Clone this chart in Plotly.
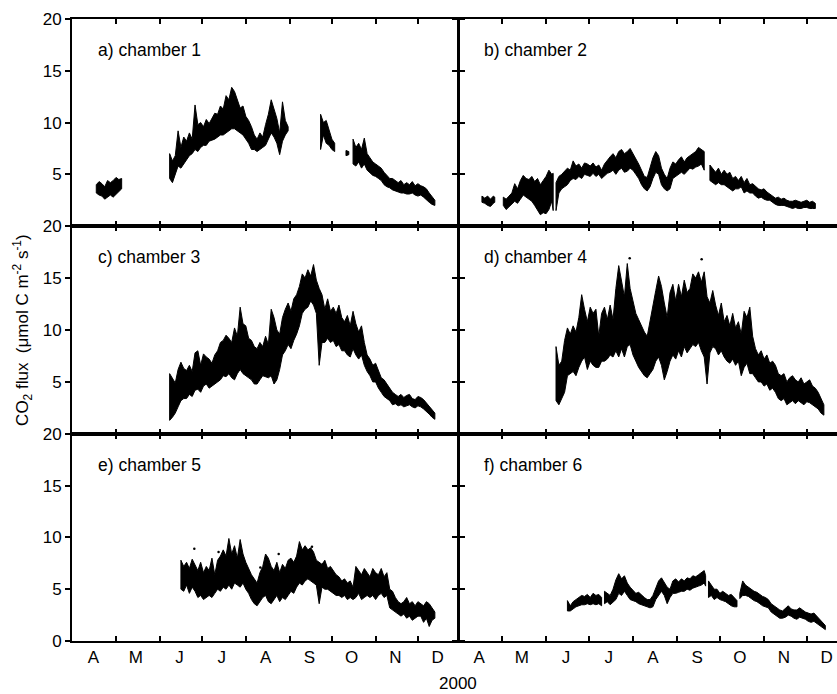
import plotly.graph_objects as go

# ---------------- data (day of year 2000, flux umol C m-2 s-1) ----------------
# None marks a gap in the record. Each entry: day, upper envelope, lower envelope.
a_day = [108,110,112,114,116,118,120,122,124,126,None,
         160,162,164,166,168,170,172,174,176,178,180,182,184,186,188,190,192,194,196,198,
         200,202,204,206,208,210,212,214,216,218,220,222,224,226,228,230,232,234,236,238,240,242,244,None,
         267,269,271,273,275,277,None,285,287,None,
         290,292,294,296,298,300,302,304,306,308,310,312,314,316,318,320,322,324,326,328,
         330,332,334,336,338,340,342,344,346,348]
a_hi = [4.0,4.3,4.1,3.8,4.4,4.2,4.4,4.7,4.5,4.6,None,
        7.0,6.3,6.8,9.2,7.6,8.6,8.2,9.0,8.4,11.7,9.8,10.0,9.6,10.3,9.9,10.4,10.9,10.8,11.6,11.3,
        12.6,12.2,13.4,13.0,12.2,11.4,11.6,10.6,10.2,9.6,8.8,8.4,9.0,8.6,9.8,10.8,12.2,11.2,10.4,9.0,12.0,10.2,9.6,None,
        10.8,10.0,10.2,9.2,8.4,8.0,None,7.3,7.2,None,
        8.4,7.6,8.0,7.4,8.5,7.0,6.6,6.2,6.0,5.8,5.6,5.2,4.9,4.6,4.6,4.4,4.2,4.4,4.0,4.2,
        4.0,4.3,3.9,4.1,3.9,3.8,3.6,3.2,2.8,2.5]
a_lo = [3.2,3.0,2.9,2.6,2.8,3.0,2.8,3.1,3.3,3.6,None,
        4.6,4.2,5.0,5.8,5.6,6.0,6.4,6.8,7.0,7.4,7.2,7.6,7.8,7.8,8.2,8.3,8.4,8.6,8.8,8.8,
        9.0,9.2,9.4,9.4,9.2,9.0,8.8,8.4,8.0,7.4,7.4,7.2,7.4,7.6,7.8,8.4,9.0,8.6,8.0,6.9,8.2,8.8,9.2,None,
        7.4,8.8,8.0,7.8,7.4,7.2,None,6.8,6.9,None,
        6.0,5.8,6.2,5.6,6.0,5.4,5.2,4.9,4.8,4.6,4.4,4.0,3.8,3.7,3.5,3.4,3.3,3.2,3.2,3.1,
        3.1,3.2,3.0,2.9,3.0,2.8,2.6,2.3,2.1,2.0]

b_day = [108,110,112,114,116,117,None,
         123,125,127,129,131,133,135,137,139,141,143,145,147,149,151,153,155,157,158,None,
         160,162,164,166,168,170,172,174,176,178,180,182,184,186,188,190,192,194,196,198,
         200,202,204,206,208,210,212,214,216,218,220,222,224,226,228,230,232,234,236,238,
         240,242,244,246,248,250,252,254,256,258,260,262,264,None,
         268,270,272,274,276,278,280,282,284,286,288,290,292,294,296,298,300,302,304,306,
         308,310,312,314,316,318,320,322,324,326,328,330,332,334,336,338,340,342]
b_hi = [2.9,2.7,2.9,2.6,2.9,2.8,None,
        2.8,2.6,2.9,3.2,4.1,3.6,4.4,4.9,4.6,4.5,4.8,4.3,4.6,4.0,4.4,4.8,5.4,5.0,5.1,None,
        4.2,4.8,5.0,5.3,5.6,5.4,6.3,5.8,6.0,5.6,6.1,6.0,5.8,6.1,5.7,5.9,5.4,6.0,6.4,6.7,
        7.0,6.6,7.2,7.4,7.0,7.2,7.5,7.0,6.6,6.0,5.4,4.8,4.7,5.6,6.6,7.2,6.8,5.6,5.0,4.6,
        5.6,6.2,6.0,6.4,6.7,6.2,6.6,6.8,7.0,7.2,7.6,7.4,7.2,None,
        5.9,5.6,5.2,5.6,5.0,5.4,5.0,5.2,4.6,4.8,4.4,4.8,4.2,4.6,4.0,4.1,3.8,3.6,3.5,3.6,
        3.3,3.1,2.9,2.7,2.8,2.6,2.7,2.5,2.4,2.4,2.5,2.4,2.3,2.4,2.5,2.3,2.4,2.2]
b_lo = [2.3,2.2,2.0,1.9,2.2,2.3,None,
        2.0,1.6,1.9,2.1,2.4,2.2,2.6,3.0,2.8,2.6,2.4,2.0,1.6,1.1,1.3,1.2,1.6,2.4,1.5,None,
        1.5,3.2,3.6,3.8,4.0,4.4,4.6,4.5,4.8,4.6,5.0,4.9,4.8,5.1,4.8,5.0,4.6,4.8,5.1,5.2,
        5.4,5.0,5.4,5.6,5.2,5.3,5.6,5.4,5.0,4.6,4.0,3.6,3.4,3.8,4.6,5.2,5.0,4.0,3.6,3.4,
        3.6,4.6,4.8,5.0,5.2,5.0,5.3,5.6,5.5,5.7,5.8,6.0,5.4,None,
        4.4,4.2,4.0,4.2,4.0,4.0,3.8,3.6,3.4,3.6,3.6,3.8,3.2,3.4,3.2,3.2,2.9,2.7,2.8,2.6,
        2.5,2.5,2.3,2.1,2.0,2.0,2.0,1.9,1.8,1.7,1.8,1.7,1.7,1.8,1.8,1.7,1.7,1.7]

c_day = [160,162,164,166,168,170,172,174,176,178,180,182,184,186,188,190,192,194,196,198,
         200,202,204,206,208,210,212,214,216,218,220,222,224,226,228,230,232,234,236,238,
         240,242,244,246,248,250,252,254,256,258,260,262,264,266,268,270,272,274,276,278,
         280,282,284,286,288,290,292,294,296,298,300,302,304,306,308,310,312,314,316,318,
         320,322,324,326,328,330,332,334,336,338,340,342,344,346,348]
c_hi = [5.8,5.4,4.9,6.2,6.9,6.3,6.1,6.6,6.0,7.8,8.0,6.6,7.7,7.4,7.2,6.8,7.6,8.0,8.8,9.0,
        9.5,9.2,8.8,10.2,9.4,12.2,10.6,10.4,9.2,9.0,8.4,8.2,8.8,8.4,9.4,8.6,12.0,11.2,10.0,9.6,
        11.2,12.0,12.6,11.8,13.0,13.4,14.2,15.4,15.0,15.8,15.2,16.3,14.8,14.0,13.4,12.0,13.0,11.8,12.2,11.6,
        12.4,11.2,10.8,11.4,10.4,11.8,10.6,9.8,10.4,8.8,7.6,7.2,6.6,6.8,6.0,5.4,5.2,4.8,4.4,4.0,
        3.8,3.6,3.8,3.5,3.7,3.8,3.4,3.3,3.6,3.5,3.3,3.0,2.6,2.3,2.0]
c_lo = [1.3,1.6,2.0,2.6,3.2,3.4,3.4,3.8,3.6,4.2,4.3,4.0,4.6,4.8,4.4,4.6,4.8,5.0,5.2,5.6,
        5.5,5.8,5.4,5.2,5.8,6.2,5.8,5.6,5.4,5.2,4.8,4.8,5.2,5.6,5.5,5.4,5.6,4.8,5.2,6.2,
        7.6,8.0,8.6,8.2,9.0,9.6,10.4,11.6,12.0,12.2,12.8,12.4,11.6,6.6,8.8,8.8,9.2,8.8,9.0,8.4,
        8.6,8.0,8.0,7.6,7.4,8.2,7.6,7.2,7.6,6.6,6.0,5.6,5.0,5.0,4.4,4.0,3.6,3.4,3.2,2.8,
        2.9,2.7,2.8,2.6,2.7,2.8,2.6,2.5,2.7,2.6,2.4,2.2,1.9,1.6,1.4]

d_day = [160,162,164,166,168,170,172,174,176,178,180,182,184,186,188,190,192,194,196,198,
         200,202,204,206,208,210,212,214,216,218,220,222,224,226,228,230,232,234,236,238,
         240,242,244,246,248,250,252,254,256,258,260,262,264,266,268,270,272,274,276,278,
         280,282,284,286,288,290,292,294,296,298,300,302,304,306,308,310,312,314,316,318,
         320,322,324,326,328,330,332,334,336,338,340,342,344,346,348]
d_hi = [8.4,6.6,7.0,9.0,10.2,9.6,10.4,9.8,11.2,13.4,12.0,10.8,12.2,11.6,12.0,9.4,11.6,12.2,11.0,12.4,
        11.0,14.0,16.2,14.6,13.2,16.4,14.0,12.8,11.6,11.0,10.4,9.8,9.4,11.0,12.6,13.8,15.2,14.2,12.6,11.2,
        13.6,14.4,12.8,14.4,13.2,14.8,13.6,14.0,15.4,15.0,15.6,14.6,15.6,13.2,12.6,13.8,12.4,11.4,12.6,10.8,
        11.4,10.4,11.6,10.2,10.8,9.6,11.8,11.2,12.2,9.4,8.2,7.6,8.0,7.2,7.6,6.8,7.0,6.6,5.8,5.6,
        5.8,5.0,5.4,5.6,5.2,5.0,5.4,4.8,5.0,5.2,4.6,4.4,4.0,3.4,2.8]
d_lo = [3.2,2.8,3.4,4.0,5.6,5.8,6.0,5.6,6.4,7.0,7.4,6.2,7.0,6.6,6.4,6.4,7.0,7.0,7.2,7.6,
        7.4,8.0,7.4,8.2,7.4,8.4,8.6,7.6,7.0,6.4,6.0,5.6,5.4,5.8,6.2,7.0,7.4,6.6,5.2,6.0,
        7.0,7.6,7.2,8.0,7.4,8.4,7.8,8.2,8.6,8.4,8.8,8.0,7.4,4.8,7.8,8.4,8.2,7.6,8.0,7.4,
        7.0,6.8,7.2,6.6,7.0,5.6,6.4,6.8,5.8,5.8,5.4,5.0,5.0,4.6,4.8,4.2,4.4,4.0,3.4,3.2,
        3.4,2.8,3.0,3.2,2.9,3.2,3.0,2.8,3.1,3.0,2.8,2.6,2.4,2.0,1.8]
d_dot_day = [211.7, 262.2]
d_dot_val = [16.9, 16.8]

e_day = [168,170,172,174,176,178,180,182,184,186,188,190,192,194,196,198,
         200,202,204,206,208,210,212,214,216,218,220,222,224,226,228,230,232,234,236,238,
         240,242,244,246,248,250,252,254,256,258,260,262,264,266,268,270,272,274,276,278,
         280,282,284,286,288,290,292,294,296,298,300,302,304,306,308,310,312,314,316,318,
         320,322,324,326,328,330,332,334,336,338,340,342,344,346,348]
e_hi = [7.8,7.2,7.6,7.0,7.9,7.4,6.8,7.6,6.6,7.2,6.8,8.0,6.4,7.8,8.2,8.8,
        8.2,9.9,8.4,9.2,8.0,9.8,8.4,7.6,7.0,6.4,6.0,5.6,6.6,7.2,8.4,8.0,7.2,6.8,7.6,6.6,
        7.4,7.0,7.8,8.0,7.6,8.2,9.6,8.8,9.2,8.8,9.0,8.6,7.8,7.6,7.4,7.8,7.0,7.2,6.8,6.4,
        6.2,5.8,6.0,5.6,5.8,5.2,7.2,6.8,6.4,7.0,6.6,6.2,7.0,6.6,6.4,7.0,6.2,6.6,5.0,4.8,
        4.2,3.8,3.6,3.8,4.2,3.6,3.8,3.4,3.8,3.6,3.4,3.8,3.6,3.2,2.8]
e_lo = [5.0,4.8,5.4,4.6,5.2,4.8,4.2,4.4,4.0,4.2,4.4,4.2,4.6,5.0,4.8,5.2,
        5.0,5.4,5.0,5.6,5.4,5.2,5.6,5.0,4.6,4.0,3.6,3.4,3.8,4.2,4.4,3.8,3.6,4.0,4.4,3.8,
        4.2,4.0,4.4,4.8,4.6,5.2,5.6,5.4,5.8,6.0,5.8,5.6,5.4,3.6,5.2,5.0,5.0,4.8,4.6,4.4,
        4.4,4.2,4.4,4.0,4.2,4.0,4.2,4.6,4.0,4.2,4.4,4.2,4.4,4.0,4.4,4.6,4.2,4.4,3.2,3.0,
        2.8,2.6,2.4,2.6,2.2,2.4,2.0,2.2,2.4,2.4,1.8,2.2,1.4,2.0,2.2]
e_dot_day = [177.5, 194.7, 224.3, 237.3, 252.2, 254.5, 260.9]
e_dot_val = [8.9, 8.6, 7.1, 8.4, 8.1, 8.2, 9.1]

f_day = [168,170,172,174,176,178,180,182,184,186,188,190,192,None,
         194,196,198,200,202,204,206,208,210,212,214,216,218,220,222,224,226,228,230,232,
         234,236,238,240,242,244,246,248,250,252,254,256,258,260,262,264,265,None,
         267,269,271,273,275,277,279,281,283,285,287,None,
         289,291,293,295,297,299,301,303,305,307,309,311,313,315,317,319,321,323,325,327,
         329,331,333,335,337,339,341,343,345,347,349]
f_hi = [3.9,3.4,3.8,4.0,4.2,4.4,4.3,4.5,4.2,4.6,4.4,4.5,4.2,None,
        4.8,4.6,4.4,5.0,5.9,6.5,6.0,6.3,5.6,5.2,4.9,4.6,4.7,4.4,4.2,4.0,4.0,4.4,5.2,5.8,
        6.1,5.6,5.2,5.0,5.8,6.0,5.7,6.0,5.8,6.1,6.0,6.3,6.2,6.4,6.6,6.8,6.3,None,
        5.8,5.4,5.0,5.0,4.6,4.8,4.6,4.4,4.5,4.2,3.9,None,
        4.6,5.8,5.4,5.2,5.0,4.8,4.7,4.5,4.3,4.2,4.0,3.6,3.4,3.2,3.0,2.9,3.2,3.4,3.1,3.0,
        3.0,3.2,3.0,2.8,2.7,2.6,2.7,2.4,2.2,1.9,1.5]
f_lo = [2.9,2.9,3.1,3.3,3.4,3.5,3.5,3.6,3.5,3.6,3.5,3.6,3.4,None,
        3.6,3.8,3.5,3.7,4.0,4.6,4.4,4.8,4.4,4.0,3.9,3.8,3.6,3.5,3.4,3.3,3.2,3.3,4.0,4.4,
        4.8,4.4,3.6,4.2,4.6,4.6,4.7,4.8,4.8,5.0,4.9,5.1,5.2,5.3,5.4,5.6,5.3,None,
        4.2,4.4,4.0,4.2,4.0,3.9,3.8,3.6,3.4,3.3,3.3,None,
        4.1,4.4,4.4,4.3,4.1,3.9,3.8,3.6,3.4,3.3,3.2,2.8,2.6,2.4,2.2,2.2,2.3,2.5,2.4,2.2,
        2.1,2.3,2.2,2.1,1.9,1.8,1.9,1.7,1.5,1.3,1.1]

panel_titles = ["a) chamber 1", "b) chamber 2", "c) chamber 3",
                "d) chamber 4", "e) chamber 5", "f) chamber 6"]
month_letters = ["A", "M", "J", "J", "A", "S", "O", "N", "D"]
month_mid = [106, 136, 167, 197, 228, 259, 289, 320, 350]
month_start = [122, 153, 183, 214, 245, 275, 306, 336]
y_title = "CO<sub>2</sub> flux  (\u03bcmol C m<sup>-2</sup> s<sup>-1</sup>)"
x_title = "2000"

panels = [(a_day, a_hi, a_lo), (b_day, b_hi, b_lo), (c_day, c_hi, c_lo),
          (d_day, d_hi, d_lo), (e_day, e_hi, e_lo), (f_day, f_hi, f_lo)]


def band(days, hi, lo):
    xs, ys = [], []
    sd, sh, sl = [], [], []
    for d, h, l in list(zip(days, hi, lo)) + [(None, None, None)]:
        if d is None:
            if sd:
                xs += sd + sd[::-1] + [sd[0], None]
                ys += sh + sl[::-1] + [sh[0], None]
            sd, sh, sl = [], [], []
        else:
            sd.append(d); sh.append(h); sl.append(l)
    return xs, ys


FONT = "Liberation Sans, Arial, Helvetica, sans-serif"
fig = go.Figure()

left_dom = [0, 386 / 765]
right_dom = [387 / 765, 1]
row_dom = [[0.667, 1.0], [0.333, 0.667], [0.0, 0.333]]
left_range = [90.8, 364.4]
right_range = [91.9, 357.2]

for i, (days, hi, lo) in enumerate(panels):
    n = i + 1
    xs, ys = band(days, hi, lo)
    xa = "x" if n == 1 else f"x{n}"
    ya = "y" if n == 1 else f"y{n}"
    fig.add_trace(go.Scatter(x=xs, y=ys, mode="lines", fill="toself",
                             fillcolor="black", line=dict(color="black", width=1),
                             xaxis=xa, yaxis=ya, showlegend=False, hoverinfo="skip"))
    col = i % 2
    row = i // 2
    bottom = row == 2
    xaxis = dict(domain=left_dom if col == 0 else right_dom,
                 range=left_range if col == 0 else right_range,
                 anchor=ya, showgrid=False, zeroline=False,
                 showline=True, linecolor="black", linewidth=2, mirror="ticks",
                 tickmode="array", tickvals=month_mid, ticktext=month_letters,
                 ticks="", showticklabels=bottom,
                 tickfont=dict(family=FONT, size=17, color="black"),
                 minor=dict(tickmode="array", tickvals=month_start, ticks="inside",
                            ticklen=5, tickwidth=1.5, tickcolor="black", showgrid=False))
    yvals = [0, 5, 10, 15, 20] if bottom else [5, 10, 15, 20]
    yaxis = dict(domain=row_dom[row], range=[0, 20], anchor=xa,
                 showgrid=False, zeroline=False, showline=True, linecolor="black",
                 linewidth=2, tickmode="array", tickvals=yvals,
                 ticks="outside", ticklen=5, tickwidth=1.5, tickcolor="black",
                 showticklabels=(col == 0),
                 mirror="ticks" if col == 0 else False,
                 tickfont=dict(family=FONT, size=17, color="black"))
    key = "" if n == 1 else str(n)
    fig.layout["xaxis" + key] = xaxis
    fig.layout["yaxis" + key] = yaxis
    fig.add_annotation(text=panel_titles[i], xref=f"{xa} domain", yref=f"{ya} domain",
                       x=0.062, y=0.85, xanchor="left", yanchor="middle",
                       showarrow=False, font=dict(family=FONT, size=17.5, color="black"))

fig.add_trace(go.Scatter(x=d_dot_day, y=d_dot_val, mode="markers",
                         marker=dict(color="black", size=2.5), xaxis="x4", yaxis="y4",
                         showlegend=False, hoverinfo="skip"))
fig.add_trace(go.Scatter(x=e_dot_day, y=e_dot_val, mode="markers",
                         marker=dict(color="black", size=2.5), xaxis="x5", yaxis="y5",
                         showlegend=False, hoverinfo="skip"))

fig.add_annotation(text=y_title, xref="paper", yref="paper", x=-0.0655, y=0.5,
                   textangle=-90, showarrow=False, xanchor="center", yanchor="middle",
                   font=dict(family=FONT, size=17, color="black"))
fig.add_annotation(text=x_title, xref="paper", yref="paper", x=0.504, y=-0.068,
                   showarrow=False, xanchor="center", yanchor="middle",
                   font=dict(family=FONT, size=17, color="black"))

fig.update_layout(width=837, height=694, margin=dict(l=72, r=0, t=19, b=53),
                  paper_bgcolor="white", plot_bgcolor="white")

fig.write_html("out.html")
